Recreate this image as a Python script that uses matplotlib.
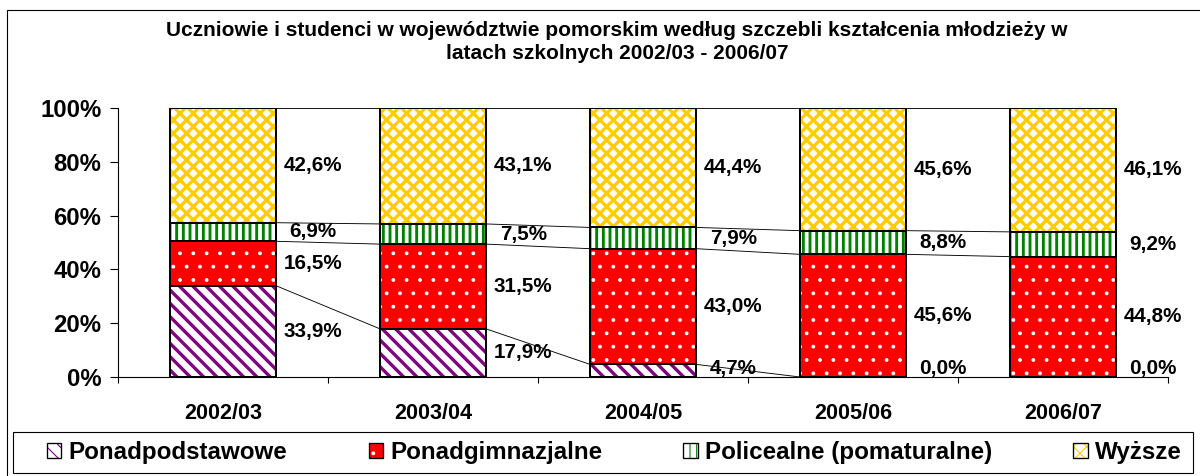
import matplotlib.pyplot as plt
import numpy as np
from matplotlib.patches import Patch, Rectangle
from matplotlib.ticker import FuncFormatter

plt.rcParams['font.family'] = ['Liberation Sans', 'DejaVu Sans']
plt.rcParams['font.weight'] = 'bold'

years = ['2002/03', '2003/04', '2004/05', '2005/06', '2006/07']
names = ['Ponadpodstawowe', 'Ponadgimnazjalne', 'Policealne (pomaturalne)', 'Wyższe']
ponadpodstawowe = [33.9, 17.9, 4.7, 0.0, 0.0]
ponadgimnazjalne = [16.5, 31.5, 43.0, 45.6, 44.8]
policealne = [6.9, 7.5, 7.9, 8.8, 9.2]
wyzsze = [42.6, 43.1, 44.4, 45.6, 46.1]

title = ('Uczniowie i studenci w województwie pomorskim według szczebli kształcenia młodzieży w\n'
         'latach szkolnych 2002/03 - 2006/07')

series = [ponadpodstawowe, ponadgimnazjalne, policealne, wyzsze]
vals = np.array(series)
shares = vals / vals.sum(axis=0)

# face, hatch colour, hatch, hatch linewidth
styles = [
    ('white', '#800080', '\\\\', 3.0),
    ('#FF0000', 'white', '.', 1.0),
    ('white', '#008000', '||', 2.6),
    ('white', '#FFCC00', 'xx', 3.0),
]

fig = plt.figure(figsize=(15, 5.95), dpi=80)
ax = fig.add_axes([118 / 1200, 99 / 476, 1050 / 1200, 269 / 476])

x = np.arange(len(years))
w = 0.505
bottom = np.zeros(len(years))
handles = []
for k, (face, hc, hatch, hlw) in enumerate(styles):
    with plt.rc_context({'hatch.linewidth': hlw}):
        bars = ax.bar(x, shares[k], w, bottom=bottom, color=face, edgecolor=hc,
                      hatch=hatch, linewidth=0, zorder=2)
        for b in bars:
            if hasattr(b, 'set_hatch_linewidth'):
                b.set_hatch_linewidth(hlw)
        hp = Patch(facecolor=face, edgecolor=hc, hatch=hatch, linewidth=0)
        if hasattr(hp, 'set_hatch_linewidth'):
            hp.set_hatch_linewidth(hlw)
    ax.bar(x, shares[k], w, bottom=bottom, fill=False, edgecolor='black',
           linewidth=1.8, zorder=3)
    handles.append((hp, Patch(fill=False, edgecolor='black', linewidth=1.2)))
    for i in range(len(years)):
        mid = max(bottom[i] + shares[k][i] / 2, 0.03)
        ax.text(x[i] + 0.43, mid, f'{series[k][i]:.1f}%'.replace('.', ','),
                ha='center', va='center', fontsize=18.6, fontweight='bold')
    bottom = bottom + shares[k]
    for i in range(len(years) - 1):
        ax.plot([x[i] + w / 2, x[i + 1] - w / 2], [bottom[i], bottom[i + 1]],
                color='black', linewidth=0.8, zorder=1)

ax.set_xlim(-0.5, len(years) - 0.5)
ax.set_ylim(0, 1)
ax.set_yticks(np.linspace(0, 1, 6))
ax.yaxis.set_major_formatter(FuncFormatter(lambda v, p: f'{v * 100:.0f}%'))
ax.set_xticks(x)
ax.set_xticklabels(years)
ax.set_xticks(np.arange(-0.5, len(years)), minor=True)
ax.tick_params(axis='x', which='major', length=0, pad=23, labelsize=19.5)
ax.tick_params(axis='x', which='minor', length=5, width=1, direction='out')
ax.tick_params(axis='y', length=7, width=1, direction='out', labelsize=21.5, pad=8)
for s in ['top', 'right']:
    ax.spines[s].set_visible(False)
for s in ['left', 'bottom']:
    ax.spines[s].set_linewidth(1)

fig.text(0.514, 1 - 42 / 476, title, ha='center', va='center', fontsize=18.8,
         fontweight='bold', linespacing=1.25)

leg = fig.legend(handles, names, ncol=4, mode='expand',
                 bbox_to_anchor=(47 / 1200, 3 / 476, 1135 / 1200, 41 / 476),
                 loc='center', fontsize=21.7, frameon=False,
                 handlelength=0.6, handleheight=0.6, handletextpad=0.3,
                 borderpad=0, borderaxespad=0)

fig.patches.append(Rectangle((13 / 1200, 3 / 476), 1180 / 1200, 41 / 476,
                             transform=fig.transFigure, fill=False,
                             edgecolor='black', linewidth=1))
fig.patches.append(Rectangle((7 / 1200, -0.05), 1.2, 1.05 - 10 / 476,
                             transform=fig.transFigure, fill=False,
                             edgecolor='black', linewidth=1))

fig.savefig('out.png', dpi=80)
